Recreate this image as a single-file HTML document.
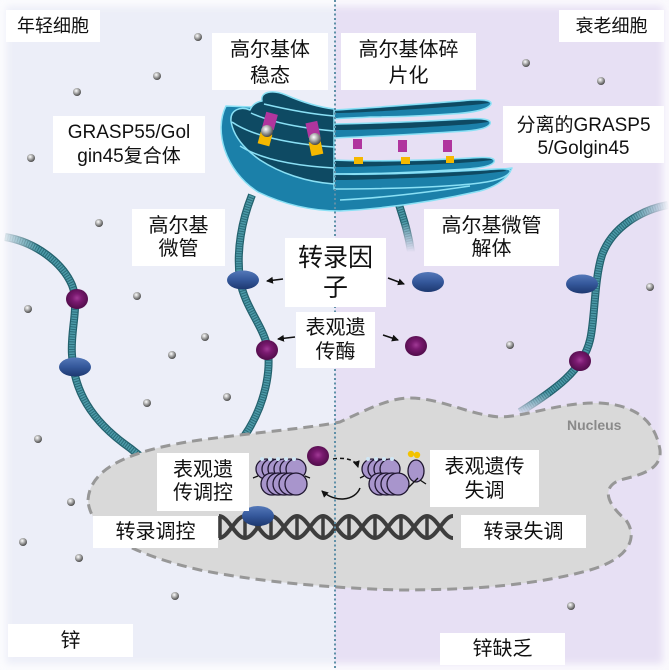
<!DOCTYPE html>
<html><head><meta charset="utf-8">
<style>
html,body{margin:0;padding:0;}
body{width:669px;height:670px;position:relative;overflow:hidden;font-family:"Liberation Sans","Noto Sans CJK SC",sans-serif;color:#111;background:#eceef8;}
svg{position:absolute;left:0;top:0;}
.l{position:absolute;background:#fff;display:flex;align-items:center;justify-content:center;text-align:center;font-size:20px;line-height:24px;white-space:nowrap;box-sizing:border-box;}
</style></head><body>
<svg width="669" height="670" viewBox="0 0 669 670">
<defs>
  <radialGradient id="silver" cx="40%" cy="35%" r="65%">
    <stop offset="0" stop-color="#ffffff"/><stop offset="0.45" stop-color="#b0b0b0"/><stop offset="1" stop-color="#4a4a4a"/>
  </radialGradient>
  <radialGradient id="purp" cx="50%" cy="45%" r="60%">
    <stop offset="0" stop-color="#a03a95"/><stop offset="0.35" stop-color="#7a1a70"/><stop offset="1" stop-color="#4a0a44"/>
  </radialGradient>
  <linearGradient id="blu" x1="0" y1="0" x2="0" y2="1">
    <stop offset="0" stop-color="#5478b8"/><stop offset="0.5" stop-color="#34579a"/><stop offset="1" stop-color="#1d3870"/>
  </linearGradient>
  <linearGradient id="gxR" x1="0" y1="0" x2="1" y2="0"><stop offset="0" stop-color="#000"/><stop offset="1" stop-color="#fff"/></linearGradient>
  <linearGradient id="gxL" x1="0" y1="0" x2="1" y2="0"><stop offset="0" stop-color="#fff"/><stop offset="1" stop-color="#000"/></linearGradient>
  <linearGradient id="gyD" x1="0" y1="0" x2="0" y2="1"><stop offset="0" stop-color="#fff"/><stop offset="1" stop-color="#000"/></linearGradient>
  <filter id="blur" x="-5%" y="-5%" width="110%" height="110%"><feGaussianBlur stdDeviation="4"/></filter>
  <mask id="m1" maskUnits="userSpaceOnUse" x="0" y="0" width="669" height="670">
    <rect x="0" y="0" width="669" height="670" fill="#fff"/>
    <rect x="0" y="200" width="38" height="80" fill="url(#gxR)"/>
  </mask>
  <mask id="m3" maskUnits="userSpaceOnUse" x="0" y="0" width="669" height="670">
    <rect x="0" y="0" width="669" height="670" fill="#fff"/>
    <rect x="385" y="222" width="40" height="30" fill="url(#gyD)"/>
    <rect x="385" y="252" width="40" height="20" fill="#000"/>
  </mask>
  <mask id="m4" maskUnits="userSpaceOnUse" x="0" y="0" width="669" height="670">
    <rect x="0" y="0" width="669" height="670" fill="#fff"/>
    <rect x="630" y="190" width="39" height="40" fill="url(#gxL)"/>
    <rect x="500" y="392" width="50" height="24" fill="url(#gyD)"/>
  </mask>
  <path id="t1" d="M 5,237 C 35,242 62,262 72,285 C 80,305 70,330 72,355 C 74,390 90,420 130,448 L 145,460"/>
  <path id="t2" d="M 252,195 C 242,220 236,250 240,280 C 244,305 262,325 267,345 C 272,370 265,405 245,435 L 236,448"/>
  <path id="t3" d="M 396,195 C 402,215 408,230 411,252"/>
  <path id="t4" d="M 668,205 C 640,210 612,228 602,255 C 594,280 595,320 590,340 C 583,370 555,390 520,412"/>
  <marker id="ah" markerWidth="8" markerHeight="8" refX="6" refY="4" orient="auto" markerUnits="userSpaceOnUse">
    <path d="M0,0.5 L7,4 L0,7.5 Z" fill="#111"/>
  </marker>
  <g id="dot"><circle r="4" fill="url(#silver)"/></g>
</defs>

<!-- backgrounds -->
<rect x="0" y="0" width="335" height="670" fill="#eceef8"/>
<rect x="335" y="0" width="334" height="670" fill="#e7e0f4"/>
<rect x="0" y="0" width="669" height="670" fill="none" stroke="#ffffff" stroke-width="12" opacity="0.85" filter="url(#blur)"/>

<!-- microtubules -->
<g fill="none" mask="url(#m1)">
  <use href="#t1" stroke="#23616d" stroke-width="8"/>
  <use href="#t1" stroke="#4c9aa8" stroke-width="5.5"/>
  <use href="#t1" stroke="#2a6b78" stroke-width="5.5" stroke-dasharray="1 1.5"/>
</g>
<g fill="none">
  <use href="#t2" stroke="#23616d" stroke-width="8"/>
  <use href="#t2" stroke="#4c9aa8" stroke-width="5.5"/>
  <use href="#t2" stroke="#2a6b78" stroke-width="5.5" stroke-dasharray="1 1.5"/>
</g>
<g fill="none" mask="url(#m3)">
  <use href="#t3" stroke="#23616d" stroke-width="8"/>
  <use href="#t3" stroke="#4c9aa8" stroke-width="5.5"/>
  <use href="#t3" stroke="#2a6b78" stroke-width="5.5" stroke-dasharray="1 1.5"/>
</g>
<g fill="none" mask="url(#m4)">
  <use href="#t4" stroke="#23616d" stroke-width="8"/>
  <use href="#t4" stroke="#4c9aa8" stroke-width="5.5"/>
  <use href="#t4" stroke="#2a6b78" stroke-width="5.5" stroke-dasharray="1 1.5"/>
</g>

<!-- beads on tubes and free -->
<ellipse cx="77" cy="299" rx="11" ry="10" fill="url(#purp)"/>
<ellipse cx="75" cy="367" rx="16" ry="9.5" fill="url(#blu)"/>
<ellipse cx="243" cy="280" rx="16" ry="9.5" fill="url(#blu)"/>
<ellipse cx="267" cy="350" rx="11" ry="10" fill="url(#purp)"/>
<ellipse cx="428" cy="282" rx="16" ry="10" fill="url(#blu)"/>
<ellipse cx="416" cy="346" rx="11" ry="10" fill="url(#purp)"/>
<ellipse cx="582" cy="284" rx="16" ry="9.5" fill="url(#blu)"/>
<ellipse cx="580" cy="361" rx="11" ry="10" fill="url(#purp)"/>

<!-- silver dots -->
<use href="#dot" x="198" y="37"/><use href="#dot" x="157" y="76"/><use href="#dot" x="77" y="92"/>
<use href="#dot" x="31" y="158"/><use href="#dot" x="526" y="63"/><use href="#dot" x="601" y="81"/>
<use href="#dot" x="99" y="223"/><use href="#dot" x="137" y="296"/><use href="#dot" x="28" y="309"/>
<use href="#dot" x="205" y="337"/><use href="#dot" x="172" y="355"/><use href="#dot" x="227" y="397"/>
<use href="#dot" x="147" y="403"/><use href="#dot" x="38" y="439"/><use href="#dot" x="650" y="287"/>
<use href="#dot" x="510" y="345"/><use href="#dot" x="71" y="502"/><use href="#dot" x="23" y="542"/>
<use href="#dot" x="79" y="558"/><use href="#dot" x="175" y="596"/><use href="#dot" x="571" y="606"/>

<!-- nucleus -->
<path d="M 88,500 C 90,468 130,450 200,440 C 260,432 310,428 340,422 C 370,408 390,398 410,398 C 440,398 470,415 500,417 C 530,416 560,402 600,403 C 635,405 655,420 660,450 C 662,470 640,475 620,480 C 600,488 608,505 626,520 C 640,540 625,560 590,570 C 540,584 480,590 400,590 C 330,588 260,582 200,570 C 140,556 90,535 88,500 Z" fill="#d9d9d9" stroke="#979797" stroke-width="3" stroke-dasharray="10 6"/>
<text x="567" y="430" font-family="Liberation Sans, sans-serif" font-weight="bold" font-size="14" fill="#8a8a8a">Nucleus</text>

<!-- DNA -->
<g fill="none" stroke="#3d3d3d" stroke-width="4">
  <path d="M 219,516 C 228.47,516 235.53,538 245,538 S 261.53,516 271,516 S 287.53,538 297,538 S 313.53,516 323,516 S 339.53,538 349,538 S 365.53,516 375,516 S 391.53,538 401,538 S 417.53,516 427,516 S 443.53,538 453,538"/>
  <path d="M 219,538 C 228.47,538 235.53,516 245,516 S 261.53,538 271,538 S 287.53,516 297,516 S 313.53,538 323,538 S 339.53,516 349,516 S 365.53,538 375,538 S 391.53,516 401,516 S 417.53,538 427,538 S 443.53,516 453,516"/>
  <g stroke-width="3.5">
    <line x1="220" y1="516" x2="220" y2="538"/><line x1="245" y1="517" x2="245" y2="537"/>
    <line x1="271" y1="517" x2="271" y2="537"/><line x1="297" y1="517" x2="297" y2="537"/>
    <line x1="323" y1="517" x2="323" y2="537"/><line x1="349" y1="517" x2="349" y2="537"/>
    <line x1="375" y1="517" x2="375" y2="537"/><line x1="401" y1="517" x2="401" y2="537"/>
    <line x1="427" y1="517" x2="427" y2="537"/>
  </g>
</g>
<ellipse cx="258" cy="516" rx="16" ry="10" fill="url(#blu)"/>

<!-- nucleosomes -->
<g stroke="#1f1630" stroke-width="1.3" fill="#a895cc">
  <circle cx="266" cy="469" r="10"/><circle cx="272" cy="469" r="10"/><circle cx="278" cy="469" r="10"/>
  <circle cx="284" cy="469" r="10"/><circle cx="290" cy="469" r="10"/><circle cx="296" cy="469" r="10"/>
  <circle cx="272" cy="484" r="11"/><circle cx="278" cy="484" r="11"/><circle cx="284" cy="484" r="11"/>
  <circle cx="290" cy="484" r="11"/><circle cx="296" cy="484" r="11"/>
  <circle cx="372" cy="469" r="10"/><circle cx="378" cy="469" r="10"/><circle cx="384" cy="469" r="10"/>
  <circle cx="390" cy="469" r="10"/>
  <circle cx="380" cy="484" r="11"/><circle cx="386" cy="484" r="11"/><circle cx="392" cy="484" r="11"/>
  <circle cx="398" cy="484" r="11"/>
  <ellipse cx="416" cy="471" rx="8" ry="11"/>
</g>
<g fill="#cfe6f4">
  <circle cx="262" cy="459" r="2"/><circle cx="270" cy="459" r="2"/><circle cx="278" cy="459" r="2"/><circle cx="286" cy="459" r="2"/><circle cx="294" cy="459" r="2"/>
  <circle cx="368" cy="459" r="2"/><circle cx="376" cy="459" r="2"/><circle cx="384" cy="459" r="2"/><circle cx="392" cy="459" r="2"/>
</g>
<path d="M 253,478 L 258,476 M 305,476 L 310,478 M 360,478 L 364,476 M 408,488 L 418,478 M 420,480 L 426,484" stroke="#111" stroke-width="1.3" fill="none"/>
<circle cx="411" cy="454" r="3.2" fill="#f2c200"/><circle cx="417" cy="455" r="3.2" fill="#f2c200"/>
<ellipse cx="318" cy="456" rx="11" ry="10" fill="url(#purp)"/>

<!-- curved arrows -->
<path d="M 333,459 C 346,457 356,460 358,467" fill="none" stroke="#111" stroke-width="1.5" stroke-dasharray="4 3" marker-end="url(#ah)"/>
<path d="M 360,488 C 355,501 335,503 322,491" fill="none" stroke="#111" stroke-width="1.5" marker-end="url(#ah)"/>

<!-- Golgi -->
<g stroke="#8ae0f5" stroke-width="1.5" stroke-linejoin="round">
  <path fill="#1b80a9" d="M 226,106 C 214,130 224,170 258,192 C 285,205 312,211 340,211 C 395,208 445,199 480,191 C 498,186 508,178 512,168 C 480,172 440,175 400,177 C 370,178 350,178 334,177 L 334,110 Z"/>
  <!-- right sheets -->
  <path fill="#1b80a9" d="M 334,110 C 370,108 420,104 460,101 C 478,99 492,99 491,104 C 488,110 470,113 450,114 C 420,116 390,117 370,117 C 355,118 343,118 334,119 Z"/>
  <path fill="#0e4a63" stroke="none" d="M 335,111 C 370,109 420,105 460,102 C 478,100 488,101 489,103 C 470,106 430,108 400,110 C 370,112 350,113 335,113 Z"/>
  <path fill="#1b80a9" d="M 334,124 C 380,123 430,121 465,119 C 482,118 492,119 490,124 C 486,130 470,131 450,132 C 420,134 380,136 334,138 Z"/>
  <path fill="#0e4a63" stroke="none" d="M 335,125 C 380,124 430,122 465,120 C 480,119 488,120 488,122 C 470,125 440,126 410,128 C 380,129 355,130 335,130 Z"/>
  <path fill="#1b80a9" d="M 334,160 C 380,162 430,160 470,158 C 486,157 496,157 494,162 C 490,168 470,169 450,170 C 420,172 380,174 334,174 Z"/>
  <path fill="#0e4a63" stroke="none" d="M 335,161 C 380,163 430,161 470,159 C 484,158 492,158 492,160 C 470,163 440,164 410,165 C 380,166 355,167 335,167 Z"/>
  <path fill="#1b80a9" d="M 334,174 C 380,175 440,172 480,170 C 498,169 512,167 510,172 C 505,180 485,183 460,185 C 420,188 380,189 334,189 Z"/>
  <path fill="#0e4a63" stroke="none" d="M 335,175 C 380,176 440,173 480,171 C 496,170 506,169 506,171 C 480,175 440,177 410,178 C 380,179 355,180 335,180 Z"/>
  <path fill="none" d="M 340,200 C 380,198 430,192 470,186"/>
  <!-- left dark stack -->
  <path fill="#0e4a63" d="M 262,101 C 260,92 272,89 286,95 C 302,102 318,107 334,109 L 334,184 C 306,182 280,173 260,160 C 243,148 233,135 231,121 C 230,110 240,106 250,110 C 252,105 256,102 262,101 Z"/>
  <path fill="none" d="M 264,104 C 285,109 310,114 334,116"/>
  <path fill="none" d="M 251,113 C 270,122 300,128 334,131"/>
  <path fill="none" d="M 232,122 C 252,136 290,144 334,147"/>
  <path fill="none" d="M 240,146 C 262,160 298,166 334,168"/>
</g>
<!-- tethers left -->
<g transform="rotate(15 270 121)"><rect x="264" y="113" width="12" height="16" fill="#b0359e"/></g>
<g transform="rotate(15 265 139)"><rect x="259" y="133" width="12" height="12" fill="#f5b800"/></g>
<circle cx="267" cy="131" r="6" fill="url(#silver)"/>
<g transform="rotate(-12 313 130)"><rect x="307" y="122" width="12" height="15" fill="#b0359e"/></g>
<g transform="rotate(-12 316 148)"><rect x="310" y="141" width="12" height="14" fill="#f5b800"/></g>
<circle cx="315" cy="139" r="6" fill="url(#silver)"/>
<!-- tethers right -->
<rect x="353" y="139" width="9" height="10" fill="#b0359e"/>
<rect x="398" y="140" width="9" height="12" fill="#b0359e"/>
<rect x="443" y="140" width="9" height="12" fill="#b0359e"/>
<rect x="354" y="157" width="9" height="7" fill="#f5b800"/>
<rect x="401" y="157" width="9" height="7" fill="#f5b800"/>
<rect x="446" y="156" width="8" height="7" fill="#f5b800"/>

<!-- label arrows -->
<g stroke="#111" stroke-width="1.5" fill="none">
  <path d="M 283,279 L 267,281" marker-end="url(#ah)"/>
  <path d="M 388,278 L 404,284" marker-end="url(#ah)"/>
  <path d="M 295,337 L 278,339" marker-end="url(#ah)"/>
  <path d="M 383,335 L 398,340" marker-end="url(#ah)"/>
</g>

<!-- divider -->
<line x1="335" y1="0" x2="335" y2="670" stroke="#5f90a8" stroke-width="2" stroke-dasharray="2 2.5"/>
</svg>

<div class="l" style="left:6px;top:10px;width:94px;height:32px;font-size:18px;">年轻细胞</div>
<div class="l" style="left:559px;top:10px;width:105px;height:32px;font-size:18px;">衰老细胞</div>
<div class="l" style="left:212px;top:33px;width:116px;height:57px;line-height:26px;padding-top:3px;">高尔基体<br>稳态</div>
<div class="l" style="left:341px;top:33px;width:135px;height:57px;line-height:26px;padding-top:3px;">高尔基体碎<br>片化</div>
<div class="l" style="left:53px;top:116px;width:152px;height:57px;font-size:19px;line-height:24px;">GRASP55/Gol<br>gin45复合体</div>
<div class="l" style="left:503px;top:106px;width:161px;height:57px;font-size:19px;line-height:23px;padding-top:4px;">分离的GRASP5<br>5/Golgin45</div>
<div class="l" style="left:132px;top:209px;width:93px;height:57px;line-height:23px;">高尔基<br>微管</div>
<div class="l" style="left:424px;top:209px;width:135px;height:57px;line-height:23px;">高尔基微管<br>解体</div>
<div class="l" style="left:285px;top:238px;width:101px;height:69px;font-size:25px;line-height:30px;">转录因<br>子</div>
<div class="l" style="left:296px;top:312px;width:79px;height:56px;">表观遗<br>传酶</div>
<div class="l" style="left:157px;top:453px;width:92px;height:58px;line-height:23px;">表观遗<br>传调控</div>
<div class="l" style="left:430px;top:450px;width:109px;height:57px;">表观遗传<br>失调</div>
<div class="l" style="left:93px;top:516px;width:125px;height:32px;">转录调控</div>
<div class="l" style="left:461px;top:515px;width:125px;height:33px;">转录失调</div>
<div class="l" style="left:8px;top:624px;width:125px;height:33px;">锌</div>
<div class="l" style="left:440px;top:633px;width:125px;height:32px;">锌缺乏</div>
</body></html>
